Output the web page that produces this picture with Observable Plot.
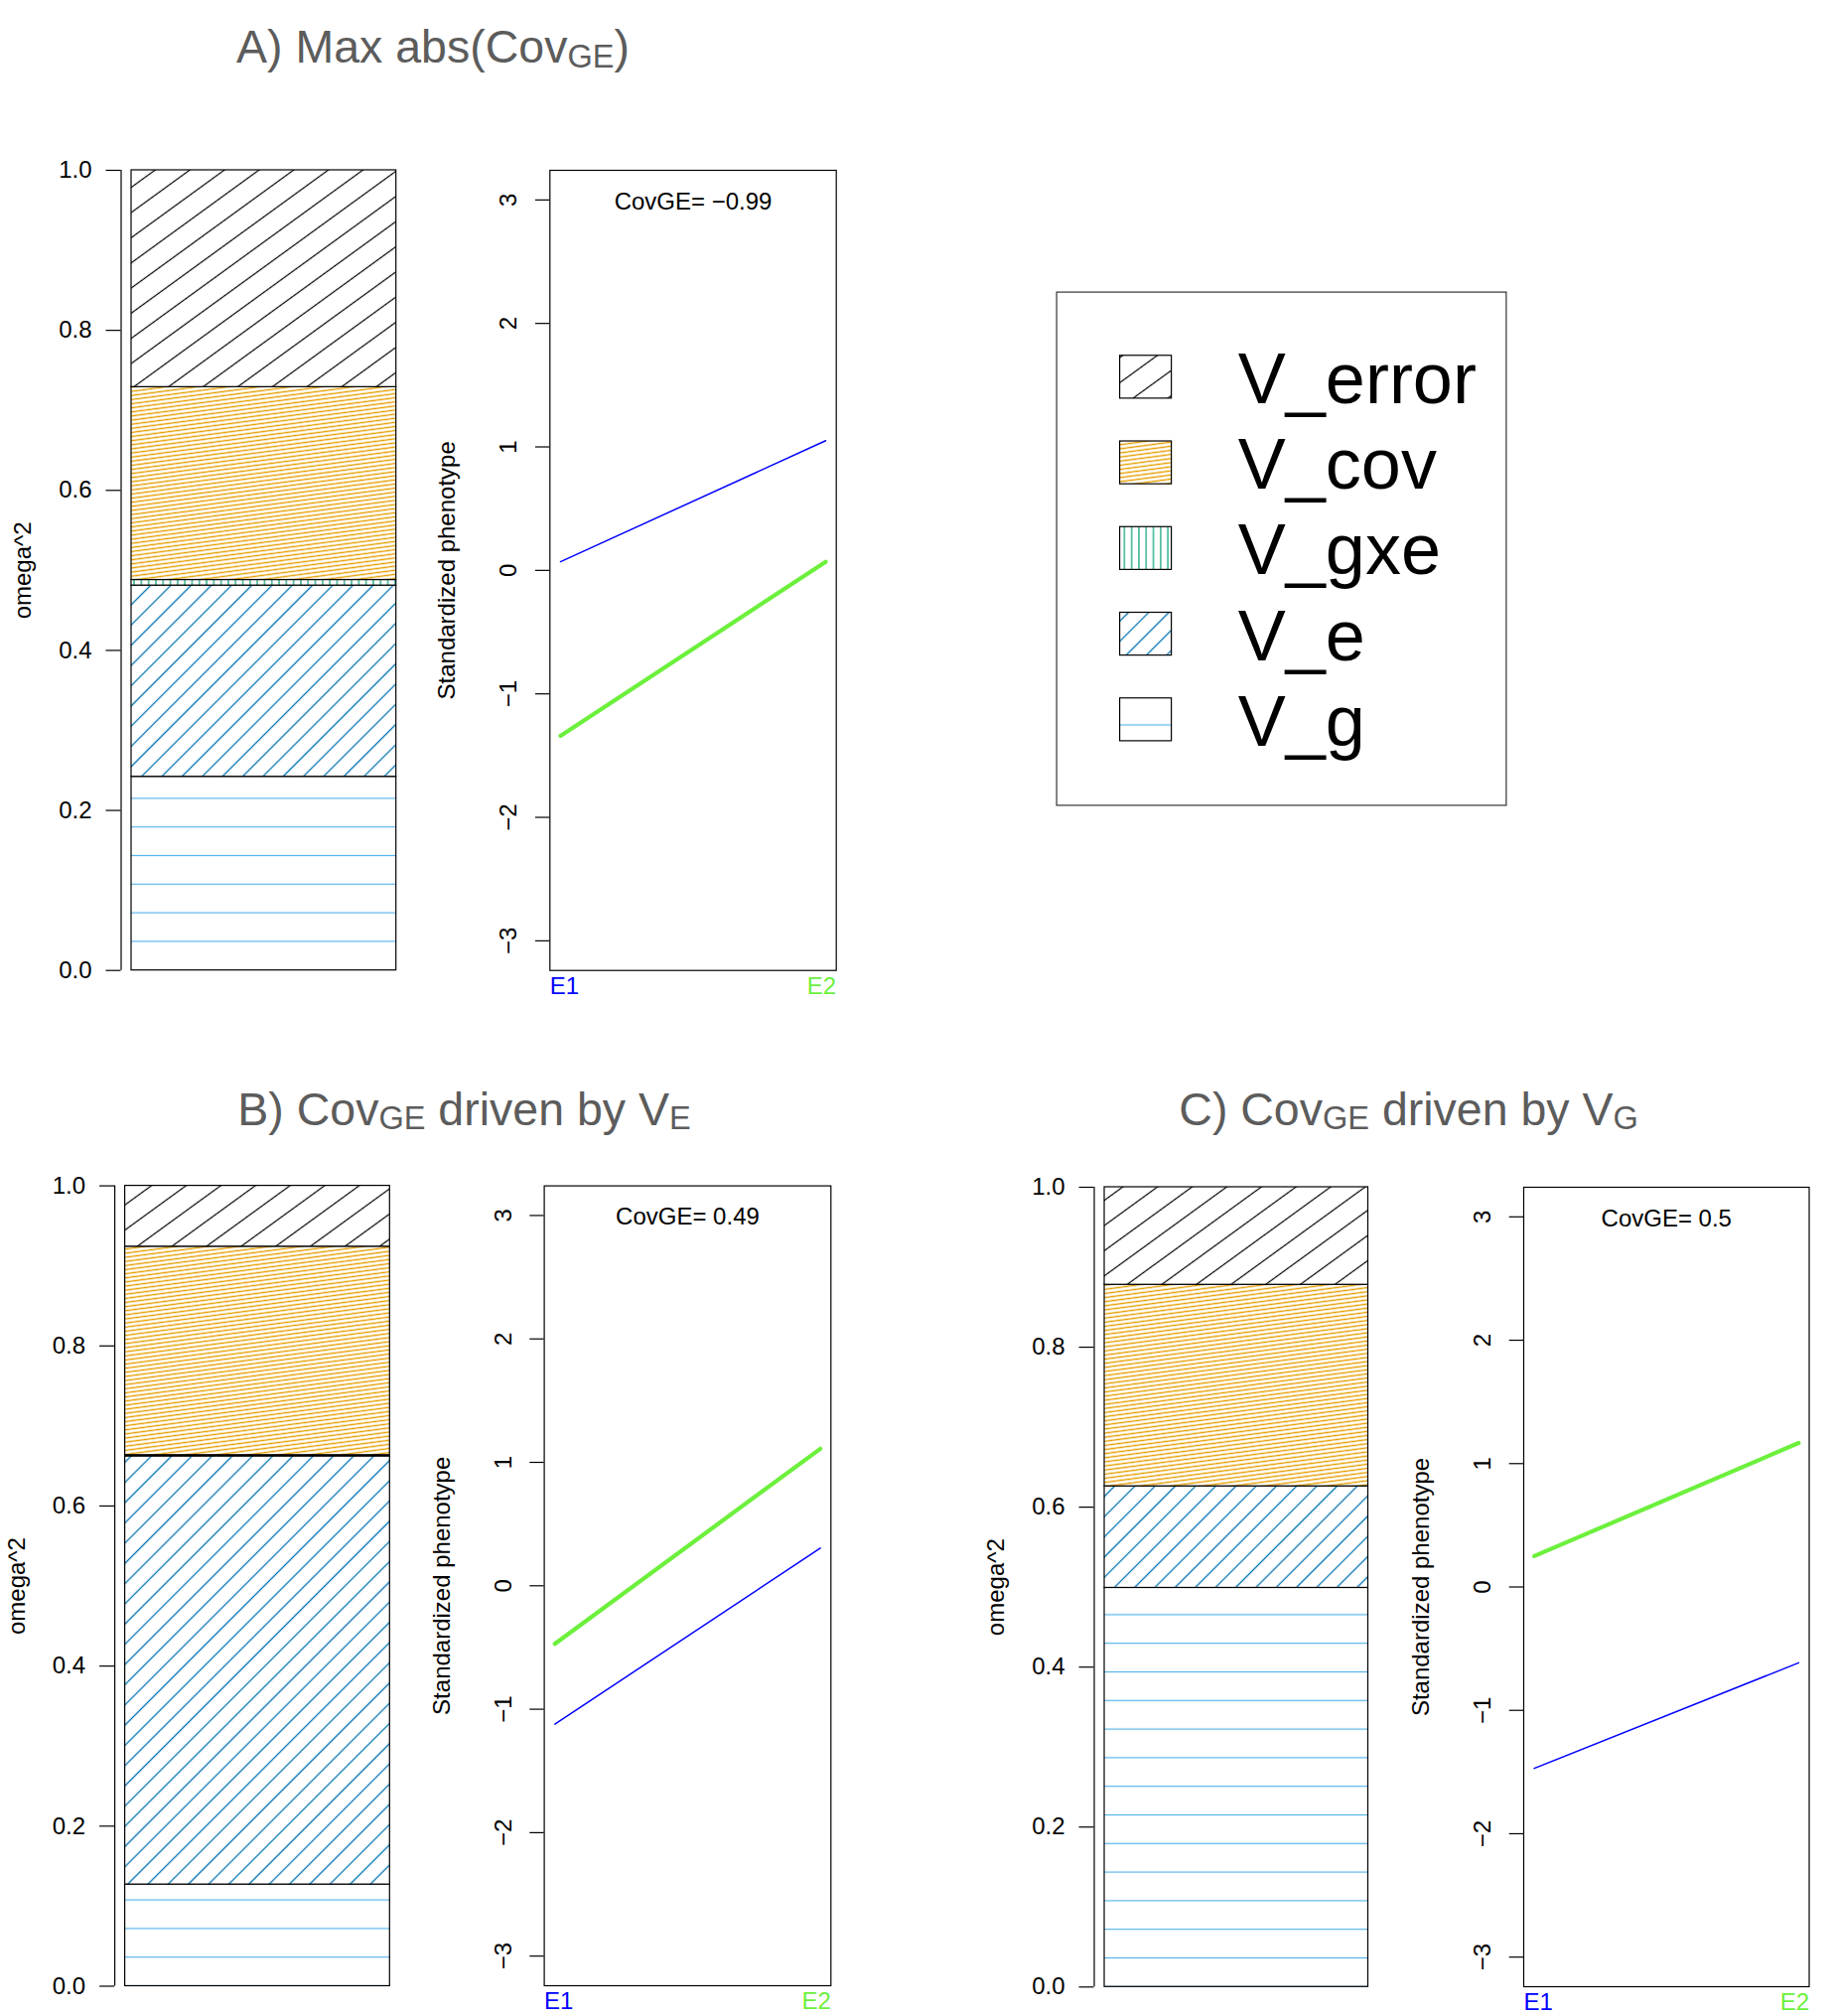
<!DOCTYPE html>
<html>
<head>
<meta charset="utf-8">
<script src="https://cdn.jsdelivr.net/npm/d3@7"></script>
<script src="https://cdn.jsdelivr.net/npm/@observablehq/plot@0.6"></script>
<style>
  body { margin: 0; background: #fff; }
  #root { position: relative; width: 1850px; height: 2030px; background: #fff; overflow: hidden; }
</style>
</head>
<body>
<div id="root"></div>
<script>
// ---------------- DATA ----------------
const components = ["V_g", "V_e", "V_gxe", "V_cov", "V_error"];           // stacking order, bottom to top
const legendOrder = ["V_error", "V_cov", "V_gxe", "V_e", "V_g"];
const componentColors = { V_g: "#56B4E9", V_e: "#0072B2", V_gxe: "#009E73", V_cov: "#E69F00", V_error: "#000000" };

const omegaA = [0.242, 0.239, 0.007, 0.241, 0.271];
const omegaB = [0.127, 0.535, 0.0015, 0.2605, 0.076];
const omegaC = [0.499, 0.127, 0.0, 0.252, 0.122];

const envX = [1, 2];
const envLabels = ["E1", "E2"];
const envColors = ["#0000FF", "#6CF03C"];

const phenoA_g1 = [0.07, 1.05];
const phenoA_g2 = [-1.34, 0.07];
const phenoB_g1 = [-1.12, 0.305];
const phenoB_g2 = [-0.47, 1.11];
const phenoC_g1 = [-1.47, -0.615];
const phenoC_g2 = [0.25, 1.167];

const covLabels = ["CovGE= \u22120.99", "CovGE= 0.49", "CovGE= 0.5"];
const barTicks = [0, 0.2, 0.4, 0.6, 0.8, 1.0];
const phenoTicks = [-3, -2, -1, 0, 1, 2, 3];
const omegaLabel = "omega^2";
const phenoLabel = "Standardized phenotype";

const titleA = [["A) Max abs(Cov", false], ["GE", true], [")", false]];
const titleB = [["B) Cov", false], ["GE", true], [" driven by V", false], ["E", true]];
const titleC = [["C) Cov", false], ["GE", true], [" driven by V", false], ["G", true]];

// ---------------- STYLE ----------------
const FONT = '"Liberation Sans", Arial, Helvetica, sans-serif';
const hatch = {
  V_g:     { angle: 0,   spacing: 28.8, width: 1.2 },
  V_e:     { angle: 45,  spacing: 14.4, width: 1.3 },
  V_gxe:   { angle: 90,  spacing: 7.3,  width: 1.2 },
  V_cov:   { angle: 7.5, spacing: 4.1,  width: 1.4 },
  V_error: { angle: 36,  spacing: 20.5, width: 1.2 }
};
const root = document.getElementById("root");

function addPatterns(svg, prefix, gAnchorY) {
  const defs = d3.select(svg).insert("defs", ":first-child");
  components.forEach(c => {
    const h = hatch[c];
    const p = defs.append("pattern")
      .attr("id", `${prefix}-${c}`)
      .attr("patternUnits", "userSpaceOnUse")
      .attr("width", h.spacing).attr("height", h.spacing);
    if (c === "V_g") p.attr("y", gAnchorY - h.spacing / 2);
    else p.attr("patternTransform", `rotate(${-h.angle})`);
    p.append("rect").attr("width", h.spacing).attr("height", h.spacing).attr("fill", "white");
    p.append("line")
      .attr("x1", 0).attr("x2", h.spacing)
      .attr("y1", h.spacing / 2).attr("y2", h.spacing / 2)
      .attr("stroke", componentColors[c]).attr("stroke-width", h.width);
  });
}

function margins(frame, box) {
  return {
    marginLeft: frame.x0 - box.left,
    marginRight: box.left + box.width - frame.x1,
    marginTop: frame.y0 - box.top,
    marginBottom: box.top + box.height - frame.y1
  };
}
function place(svg, box) {
  svg.style.position = "absolute";
  svg.style.left = box.left + "px";
  svg.style.top = box.top + "px";
  root.appendChild(svg);
}
const baseStyle = { fontFamily: FONT, fontSize: "24px", background: "transparent", overflow: "visible", color: "black" };

function barPanel(id, values, frame, box) {
  const rows = components.map((c, i) => ({ component: c, value: values[i] }));
  const svg = Plot.plot({
    width: box.width, height: box.height, ...margins(frame, box),
    x: { domain: [0, 1], axis: null },
    y: { domain: [0, 1] },
    color: { type: "identity" },
    style: baseStyle,
    marks: [
      Plot.rectY(rows, { x1: 0, x2: 1, y: "value", fill: d => `url(#${id}-${d.component})`, stroke: "black", strokeWidth: 1.2 }),
      Plot.ruleX([0], { y1: 0, y2: 1, dx: -10.5, stroke: "black", strokeWidth: 1.2 }),
      Plot.axisY({ ticks: barTicks, tickFormat: d3.format(".1f"), tickSize: 15, tickPadding: 14.5, dx: -10.5, label: null, fontSize: 24, strokeWidth: 1.2 }),
      Plot.text([omegaLabel], { frameAnchor: "left", rotate: -90, textAnchor: "middle", lineAnchor: "bottom", dx: -101.3, fontSize: 24 })
    ]
  });
  addPatterns(svg, id, svg.scale("y").apply(0));
  place(svg, box);
}

function linePanel(g1, g2, covLabel, frame, box) {
  const rows1 = envX.map((x, i) => ({ x, y: g1[i] }));
  const rows2 = envX.map((x, i) => ({ x, y: g2[i] }));
  const svg = Plot.plot({
    width: box.width, height: box.height, ...margins(frame, box),
    x: { domain: [0.96, 2.04], axis: null },
    y: { domain: [-3.24, 3.24] },
    style: baseStyle,
    marks: [
      Plot.frame({ stroke: "black", strokeWidth: 1.2 }),
      Plot.axisY({ ticks: phenoTicks, tickFormat: d3.format("d"), tickSize: 14.3, tickPadding: 19.3, tickRotate: -90, label: null, fontSize: 24, strokeWidth: 1.2 }),
      Plot.line(rows1, { x: "x", y: "y", stroke: envColors[0], strokeWidth: 1.5 }),
      Plot.line(rows2, { x: "x", y: "y", stroke: envColors[1], strokeWidth: 4.2 }),
      Plot.text([covLabel], { frameAnchor: "top", lineAnchor: "bottom", dy: 39, fontSize: 24 }),
      Plot.text([envLabels[0]], { frameAnchor: "bottom-left", textAnchor: "start", lineAnchor: "bottom", dy: 23.5, fill: envColors[0], fontSize: 24 }),
      Plot.text([envLabels[1]], { frameAnchor: "bottom-right", textAnchor: "end", lineAnchor: "bottom", dy: 23.5, fill: envColors[1], fontSize: 24 }),
      Plot.text([phenoLabel], { frameAnchor: "left", rotate: -90, textAnchor: "middle", lineAnchor: "bottom", dx: -95.5, fontSize: 24 })
    ]
  });
  place(svg, box);
}

// ---------------- PANELS ----------------
barPanel("pA", omegaA, { x0: 132, x1: 398.7, y0: 171, y1: 976.7 }, { left: 0, top: 120, width: 420, height: 900 });
linePanel(phenoA_g1, phenoA_g2, covLabels[0], { x0: 553.3, x1: 841.7, y0: 171, y1: 976.7 }, { left: 420, top: 120, width: 440, height: 900 });

barPanel("pB", omegaB, { x0: 125.6, x1: 392.3, y0: 1193.6, y1: 1999.5 }, { left: 0, top: 1140, width: 420, height: 890 });
linePanel(phenoB_g1, phenoB_g2, covLabels[1], { x0: 547.6, x1: 836.3, y0: 1193.6, y1: 1999 }, { left: 420, top: 1140, width: 440, height: 890 });

barPanel("pC", omegaC, { x0: 1112, x1: 1377.5, y0: 1195, y1: 2000.3 }, { left: 980, top: 1140, width: 420, height: 890 });
linePanel(phenoC_g1, phenoC_g2, covLabels[2], { x0: 1534, x1: 1821.5, y0: 1195, y1: 2000 }, { left: 1400, top: 1140, width: 450, height: 890 });

// ---------------- LEGEND ----------------
{
  const box = { left: 1062.7, top: 293.1, width: 454, height: 518 };
  const svg = Plot.plot({
    width: box.width, height: box.height, margin: 0,
    x: { domain: [0, 1], range: [64.6, 116.6], axis: null },
    y: { type: "band", domain: legendOrder, range: [43.2, 474.45], paddingInner: 0.5, paddingOuter: 0.25, align: 0.5, round: false, axis: null },
    color: { type: "identity" },
    style: baseStyle,
    marks: [
      Plot.frame({ stroke: "#333", strokeWidth: 1.2, inset: 0.6 }),
      Plot.barX(legendOrder, { x1: 0, x2: 1, y: d => d, fill: d => `url(#L-${d})`, stroke: "black", strokeWidth: 1.2 }),
      Plot.text(legendOrder, { x: 1, y: d => d, dx: 66.7, dy: 3, textAnchor: "start", fontSize: 72 })
    ]
  });
  const ys = svg.scale("y");
  addPatterns(svg, "L", ys.apply("V_g") + ys.bandwidth - 15.9);
  place(svg, box);
}

// ---------------- TITLES ----------------
{
  const overlay = d3.select(root).append("svg")
    .attr("width", 1850).attr("height", 2030)
    .style("position", "absolute").style("left", "0px").style("top", "0px").style("pointer-events", "none");
  const FS = 46.5;
  [[titleA, 436, 63], [titleB, 467.5, 1132.7], [titleC, 1418.6, 1132.7]].forEach(([parts, x, y]) => {
    const t = overlay.append("text").attr("x", x).attr("y", y).attr("text-anchor", "middle")
      .attr("font-family", FONT).attr("font-size", FS).attr("fill", "#5c5c5c");
    let prevSub = false;
    parts.forEach(([s, sub]) => {
      t.append("tspan").text(s).attr("font-size", sub ? FS * 0.7 : FS).attr("dy", sub ? 4.5 : (prevSub ? -4.5 : 0));
      prevSub = sub;
    });
  });
}
</script>
</body>
</html>
